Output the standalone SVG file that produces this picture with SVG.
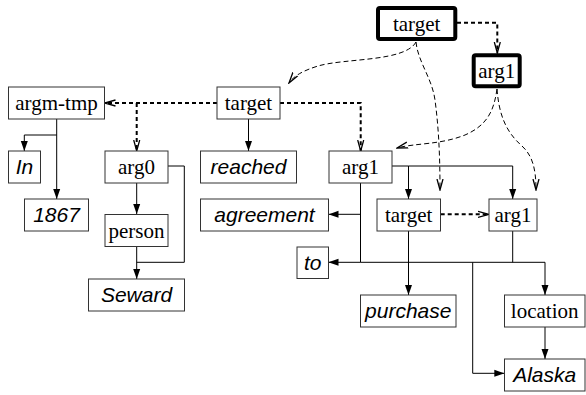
<svg xmlns="http://www.w3.org/2000/svg" width="586" height="395" viewBox="0 0 586 395">
<style>
.box{fill:#fff;stroke:#333;stroke-width:1}
.thick{fill:#fff;stroke:#000;stroke-width:4}
.lbl{font-family:"Liberation Serif","Times New Roman",serif;font-size:21px;text-anchor:middle;fill:#000}
.word{font-family:"Liberation Sans",Arial,sans-serif;font-style:italic;font-size:21px;text-anchor:middle;fill:#000}
.solid{fill:none;stroke:#000;stroke-width:1;marker-end:url(#fa)}
.line{fill:none;stroke:#000;stroke-width:1}
.dash{fill:none;stroke:#000;stroke-width:2;stroke-dasharray:4,3;marker-end:url(#oa)}
.dline{fill:none;stroke:#000;stroke-width:2;stroke-dasharray:4,3}
.curve{fill:none;stroke:#000;stroke-width:1;stroke-dasharray:5,3;marker-end:url(#oa)}
</style>
<defs>
<marker id="fa" markerUnits="userSpaceOnUse" markerWidth="10" markerHeight="8" refX="10" refY="3.5" orient="auto" viewBox="0 0 10 7"><path d="M0,0 L10,3.5 L0,7 z" fill="#000"/></marker>
<marker id="oa" markerUnits="userSpaceOnUse" markerWidth="12" markerHeight="10" refX="11" refY="4" orient="auto" viewBox="0 0 12 8"><path d="M0,1 L11,4 L0,7" fill="none" stroke="#000" stroke-width="1.3"/></marker>
</defs>
<g id="connectors">
<!-- top target -> top arg1 -->
<path class="dash" d="M457,22.7 H497.3 V53"/>
<!-- top target curves -->
<path class="curve" d="M416,42 C405,62 345,58 318,66 C302,71 294,76 289,83"/>
<path class="curve" d="M416,42 C418,62 432,78 435,100 C439,130 440,160 440,190"/>
<!-- top arg1 curves -->
<path class="curve" d="M497,89 C494,110 488,125 465,135 C440,145 415,143 397,148"/>
<path class="curve" d="M497,89 C499,115 506,132 522,146 C533,156 536,170 536,190"/>
<!-- left target dashed -->
<path class="dash" d="M217,103 H104.5"/>
<path class="dash" d="M136.7,103 V151"/>
<path class="dash" d="M280,103 H360.7 V151"/>
<!-- left target -> reached -->
<path class="solid" d="M248.5,119 V151"/>
<!-- argm-tmp -->
<path class="solid" d="M56.7,119 V199"/>
<path class="solid" d="M56.7,135 H24.3 V151"/>
<!-- arg0 -->
<path class="solid" d="M136.7,183 V214"/>
<path class="solid" d="M136.7,247 V279"/>
<path class="line" d="M168,166 H184.3 V262.3 H136.7"/>
<!-- mid arg1 -->
<path class="solid" d="M392,166 H408.5 V199"/>
<path class="solid" d="M408.5,166 H512.7 V199"/>
<path class="line" d="M360.5,183 V262.3"/>
<path class="solid" d="M360.5,214.3 H328.5"/>
<path class="solid" d="M360.5,262.3 H328.5"/>
<path class="solid" d="M360.5,262.3 H545 V295"/>
<!-- mid target -->
<path class="solid" d="M408.5,231 V295"/>
<path class="dash" d="M440.7,214.3 H489"/>
<!-- right arg1 -->
<path class="line" d="M512.7,231 V262.3"/>
<path class="solid" d="M472.7,262.3 V373.3 H504.3"/>
<!-- location -> Alaska -->
<path class="solid" d="M545,327 V359"/>
</g>
<g id="n-target-top"><rect class="thick" x="378" y="8" width="77.3" height="31" rx="2"/><text class="lbl" x="416.7" y="30.5">target</text></g>
<g id="n-arg1-top"><rect class="thick" x="473.7" y="55.3" width="46" height="31" rx="2"/><text class="lbl" x="496.7" y="78">arg1</text></g>
<g id="n-argm-tmp"><rect class="box" x="8.5" y="87" width="96" height="32"/><text class="lbl" x="56.5" y="110">argm-tmp</text></g>
<g id="n-target-left"><rect class="box" x="217" y="87" width="63" height="32"/><text class="lbl" x="248.5" y="110">target</text></g>
<g id="n-in"><rect class="box" x="8.5" y="151" width="32" height="32"/><text class="word" x="24.5" y="174">In</text></g>
<g id="n-arg0"><rect class="box" x="105" y="151" width="63" height="32"/><text class="lbl" x="136.5" y="174">arg0</text></g>
<g id="n-reached"><rect class="box" x="200.5" y="151" width="96" height="32"/><text class="word" x="248.5" y="174">reached</text></g>
<g id="n-arg1-mid"><rect class="box" x="329" y="151" width="63" height="32"/><text class="lbl" x="360.5" y="174">arg1</text></g>
<g id="n-1867"><rect class="box" x="24.5" y="199" width="64" height="32"/><text class="word" x="56.5" y="222">1867</text></g>
<g id="n-agreement"><rect class="box" x="200.5" y="199" width="128" height="32"/><text class="word" x="264.5" y="222">agreement</text></g>
<g id="n-target-mid"><rect class="box" x="377" y="199" width="63.5" height="32"/><text class="lbl" x="408.7" y="222">target</text></g>
<g id="n-arg1-right"><rect class="box" x="489" y="199" width="48" height="32"/><text class="lbl" x="513" y="222">arg1</text></g>
<g id="n-person"><rect class="box" x="105" y="214.5" width="63" height="32"/><text class="lbl" x="136.5" y="237.5">person</text></g>
<g id="n-to"><rect class="box" x="297" y="247" width="31.5" height="31.5"/><text class="word" x="312.7" y="270">to</text></g>
<g id="n-seward"><rect class="box" x="88.5" y="279" width="96" height="32"/><text class="word" x="136.5" y="302">Seward</text></g>
<g id="n-purchase"><rect class="box" x="360.5" y="295" width="95.5" height="32"/><text class="word" x="408.3" y="318">purchase</text></g>
<g id="n-location"><rect class="box" x="504.5" y="295" width="80.5" height="32"/><text class="lbl" x="544.7" y="318">location</text></g>
<g id="n-alaska"><rect class="box" x="504.5" y="359" width="80.5" height="32"/><text class="word" x="544.7" y="382">Alaska</text></g>
</svg>
